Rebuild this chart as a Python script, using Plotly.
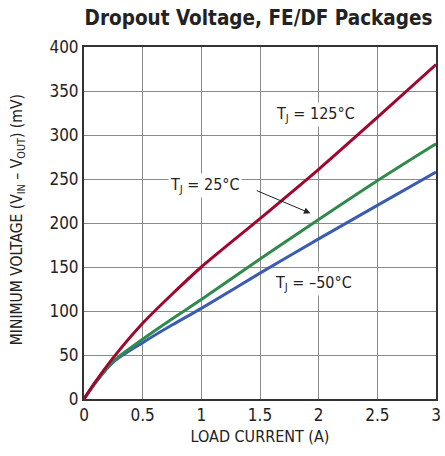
import plotly.graph_objects as go

current = [0, 0.1, 0.25, 0.5, 0.75, 1.0, 1.5, 2.0, 2.5, 3.0]
v_125 = [0, 20, 47, 86, 119, 150, 205, 261, 320, 380]
v_25 = [0, 19, 43, 68, 91, 113, 159, 204, 248, 290]
v_m50 = [0, 19, 42, 64, 84, 103, 143, 182, 220, 258]

x_ticks = [0, 0.5, 1, 1.5, 2, 2.5, 3]
x_tick_text = ["0", "0.5", "1", "1.5", "2", "2.5", "3"]
y_ticks = [0, 50, 100, 150, 200, 250, 300, 350, 400]

FONT = "DejaVu Sans Condensed, Liberation Sans Narrow, sans-serif"

fig = go.Figure()
for vals, col in [(v_m50, "#3b5cb0"), (v_25, "#2f8a4c"), (v_125, "#a0062e")]:
    fig.add_trace(go.Scatter(x=current, y=vals, mode="lines",
                             line=dict(color=col, width=3, shape="spline", smoothing=0.8),
                             hoverinfo="skip", showlegend=False))

ann_font = dict(family=FONT, size=16, color="#222")
fig.add_annotation(x=1.97, y=323, text="T<sub>J</sub> = 125°C", showarrow=False,
                   font=ann_font, bgcolor="white")
fig.add_annotation(x=1.03, y=243, text="T<sub>J</sub> = 25°C", showarrow=False,
                   font=ann_font, bgcolor="white")
fig.add_annotation(x=1.96, y=131, text="T<sub>J</sub> = –50°C", showarrow=False,
                   font=ann_font, bgcolor="white")
fig.add_annotation(x=1.93, y=211, ax=1.46, ay=237.5, axref="x", ayref="y",
                   text="", showarrow=True, arrowhead=2, arrowsize=1.3,
                   arrowwidth=1, arrowcolor="#222")
# y-axis title
fig.add_annotation(xref="paper", yref="paper", x=-0.1875, y=0.508,
                   text="MINIMUM VOLTAGE (V<sub>IN</sub> – V<sub>OUT</sub>) (mV)",
                   textangle=-90, showarrow=False, xanchor="center", yanchor="middle",
                   font=dict(family=FONT, size=15.5, color="#222"))

fig.update_layout(
    width=445, height=456,
    margin=dict(l=84, r=9, t=47, b=57, autoexpand=False),
    paper_bgcolor="white", plot_bgcolor="white",
    title=dict(text="<b>Dropout Voltage, FE/DF Packages</b>", x=0.581, xanchor="center",
               y=0.962, yanchor="middle",
               font=dict(family=FONT, size=20.5, color="#222")),
    font=dict(family=FONT, color="#222"),
)
fig.update_xaxes(range=[0, 3], tickvals=x_ticks, ticktext=x_tick_text,
                 showgrid=True, gridcolor="#8a8a8a", gridwidth=1,
                 showline=True, linecolor="#333", linewidth=2, mirror=True,
                 ticks="", zeroline=False, automargin=False,
                 tickfont=dict(family=FONT, size=17, color="#222"),
                 title=dict(text="LOAD CURRENT (A)", standoff=6,
                            font=dict(family=FONT, size=16, color="#222")))
fig.update_yaxes(range=[0, 400], tickvals=y_ticks,
                 showgrid=True, gridcolor="#8a8a8a", gridwidth=1,
                 showline=True, linecolor="#333", linewidth=2, mirror=True,
                 ticks="", zeroline=False, automargin=False,
                 tickfont=dict(family=FONT, size=17, color="#222"))

fig.write_html("out.html", config={"displayModeBar": False},
               post_script="document.body.style.margin='0';")
